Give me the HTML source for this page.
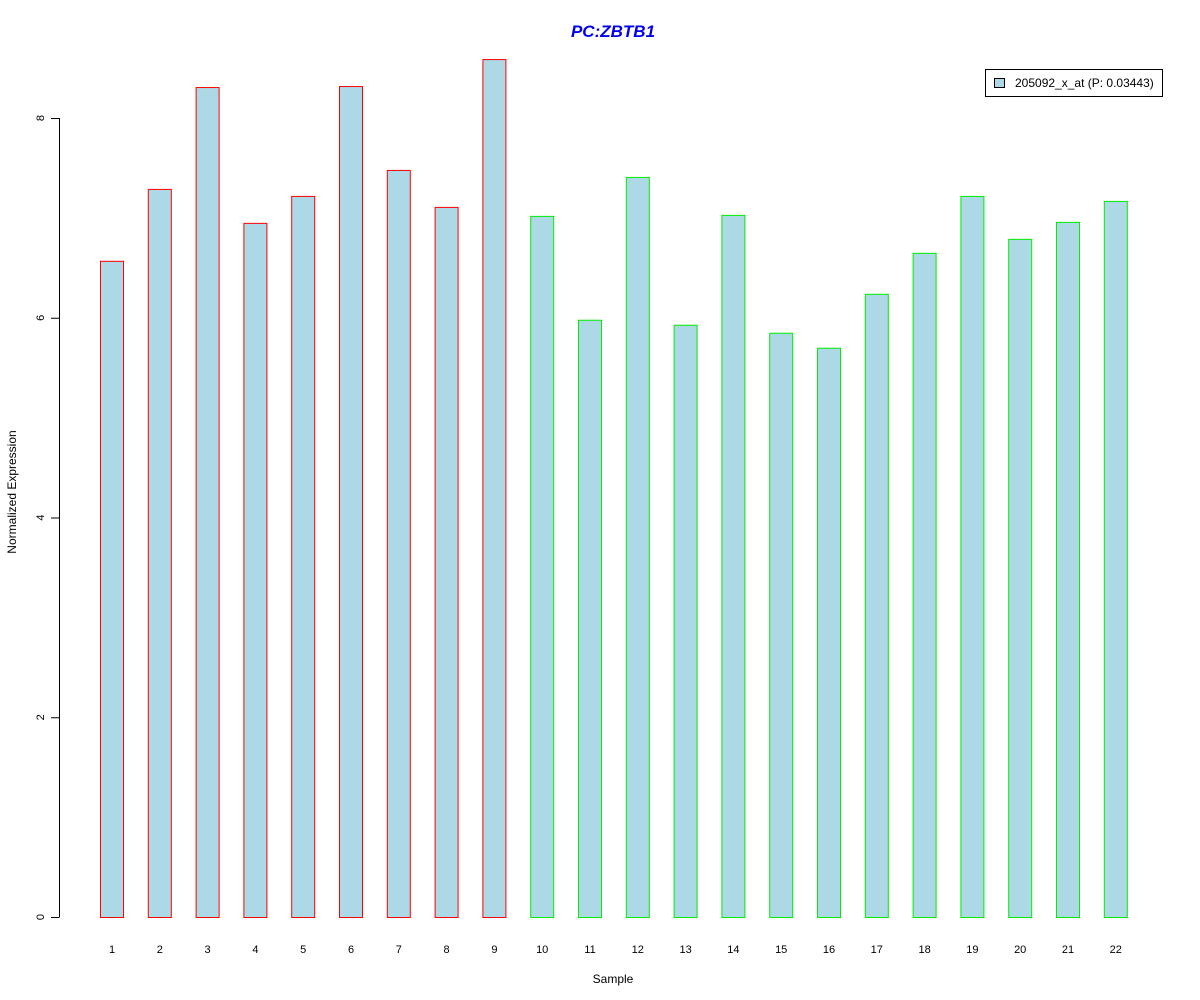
<!DOCTYPE html>
<html><head><meta charset="utf-8"><style>
body{margin:0;background:#fff;}
svg{display:block;font-family:"Liberation Sans",Arial,sans-serif;}
</style></head><body>
<svg id="chart" width="1200" height="1000">
<text x="613" y="37" text-anchor="middle" font-size="17" font-weight="bold" font-style="italic" fill="#0000ee">PC:ZBTB1</text>
<text x="613" y="983" text-anchor="middle" font-size="12">Sample</text>
<text transform="translate(16,492) rotate(-90)" text-anchor="middle" font-size="12">Normalized Expression</text>
<g id="yaxis"></g>
<g id="bars"></g>
<g id="xlabels"></g>
<g>
<rect x="985.5" y="69.5" width="177" height="27" fill="#fff" stroke="#000"/>
<rect x="994.5" y="78.5" width="10" height="9" fill="#add8e6" stroke="#000"/>
<text x="1015" y="87" font-size="12">205092_x_at (P: 0.03443)</text>
</g>
</svg>
<script>
const categories = ["1","2","3","4","5","6","7","8","9","10","11","12","13","14","15","16","17","18","19","20","21","22"];
const values = [6.57,7.29,8.31,6.95,7.22,8.32,7.48,7.11,8.59,7.02,5.98,7.41,5.93,7.03,5.85,5.70,6.24,6.65,7.22,6.79,6.96,7.17];
const groups = ["a","a","a","a","a","a","a","a","a","b","b","b","b","b","b","b","b","b","b","b","b","b"];
const yTicks = [0,2,4,6,8];
const ns="http://www.w3.org/2000/svg";
const y = v => 917 - v*99.875;
const xc = i => 112 + i*47.8;
const ya=document.getElementById('yaxis');
let ln=document.createElementNS(ns,'line');
ln.setAttribute('x1',59.5);ln.setAttribute('x2',59.5);ln.setAttribute('y1',y(0));ln.setAttribute('y2',y(8));ln.setAttribute('stroke','#000');


ya.appendChild(ln);
yTicks.forEach(t=>{
 const l=document.createElementNS(ns,'line');
 l.setAttribute('x1',51);l.setAttribute('x2',59.5);l.setAttribute('y1',y(t)+0.5);l.setAttribute('y2',y(t)+0.5);l.setAttribute('stroke','#000');
 
 
 ya.appendChild(l);
 const tx=document.createElementNS(ns,'text');
 tx.setAttribute('transform',`translate(44,${y(t)}) rotate(-90)`);tx.setAttribute('text-anchor','middle');tx.setAttribute('font-size','11');
 tx.textContent=t;
 
 
 ya.appendChild(tx);
});
const bg=document.getElementById('bars'), xl=document.getElementById('xlabels');
values.forEach((v,i)=>{
 const r=document.createElementNS(ns,'rect');
 r.setAttribute('x',xc(i)-12+0.5);r.setAttribute('width',23);
 r.setAttribute('y',y(v)+0.5);r.setAttribute('height',y(0)-y(v));
 r.setAttribute('fill','#add8e6');r.setAttribute('stroke',groups[i]==='a'?'#ff0000':'#00ee00');
 
 
 bg.appendChild(r);
 const t=document.createElementNS(ns,'text');
 t.setAttribute('x',xc(i));t.setAttribute('y',953);t.setAttribute('text-anchor','middle');t.setAttribute('font-size','11');
 t.textContent=categories[i];
 
 
 xl.appendChild(t);
});
</script>
</body></html>
